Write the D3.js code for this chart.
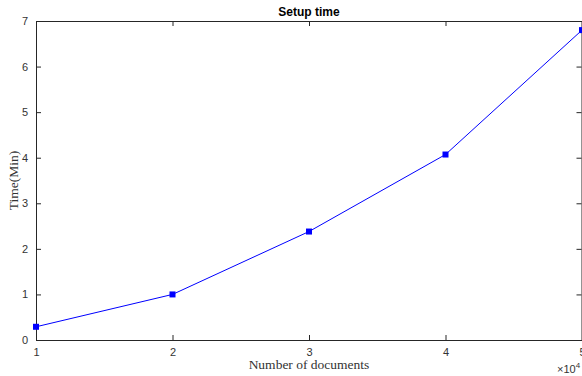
<!DOCTYPE html>
<html>
<head>
<meta charset="utf-8">
<script src="https://cdn.jsdelivr.net/npm/d3@7"></script>
<style>
  body { margin: 0; background: #fff; }
  svg { display: block; }
</style>
</head>
<body>
<div id="chart"></div>
<script>
// Setup time vs. number of documents (x in units of 10^4)
const docs = [ 1, 2, 3, 4, 5 ];
const minutes = [ 0.29, 1.0, 2.38, 4.07, 6.8 ];
const xTicks = [ 1, 2, 3, 4, 5 ];
const yTicks = [ 0, 1, 2, 3, 4, 5, 6, 7 ];

const width = 582;
const height = 376;
const margin = { top: 21, right: 0, bottom: 36, left: 36 };
const innerW = width - margin.left - margin.right;
const innerH = height - margin.top - margin.bottom;

const svg = d3.select( '#chart' )
	.append( 'svg' )
	.attr( 'width', width )
	.attr( 'height', height );

const g = svg.append( 'g' )
	.attr( 'transform', `translate(${ margin.left },${ margin.top })` );

const x = d3.scaleLinear().domain( [ 1, 5 ] ).range( [ 0, innerW ] );
const y = d3.scaleLinear().domain( [ 0, 7 ] ).range( [ innerH, 0 ] );

const tickFont = ( sel ) => sel.selectAll( 'text' )
	.attr( 'font-family', 'Helvetica, Arial, "Liberation Sans", sans-serif' )
	.attr( 'font-size', 11 )
	.attr( 'fill', '#333' );

// axes, ticks pointing inward like MATLAB
const xAxis = g.append( 'g' )
	.attr( 'transform', `translate(0,${ innerH })` )
	.call( d3.axisBottom( x ).tickValues( xTicks ).tickSize( -5 ).tickPadding( 8 ).tickFormat( d3.format( 'd' ) ) );
tickFont( xAxis );

const yAxis = g.append( 'g' )
	.call( d3.axisLeft( y ).tickValues( yTicks ).tickSize( -5 ).tickPadding( 8 ).tickFormat( d3.format( 'd' ) ) );
tickFont( yAxis );

const topAxis = g.append( 'g' )
	.call( d3.axisTop( x ).tickValues( xTicks ).tickSize( -5 ).tickFormat( '' ) );

const rightAxis = g.append( 'g' )
	.attr( 'transform', `translate(${ innerW - 0.5 },0)` )
	.call( d3.axisRight( y ).tickValues( yTicks ).tickSize( -5 ).tickFormat( '' ) );

[ xAxis, yAxis, topAxis, rightAxis ].forEach( ( a ) => {
	a.selectAll( 'path, line' ).attr( 'stroke', '#262626' );
	a.select( '.domain' ).attr( 'stroke-width', 1 );
} );

// line + square markers
const line = d3.line()
	.x( ( d, i ) => x( docs[ i ] ) )
	.y( ( d ) => y( d ) );

g.append( 'path' )
	.datum( minutes )
	.attr( 'd', line )
	.attr( 'fill', 'none' )
	.attr( 'stroke', '#0000ff' )
	.attr( 'stroke-width', 1 );

g.selectAll( 'rect.marker' )
	.data( minutes )
	.enter()
	.append( 'rect' )
	.attr( 'class', 'marker' )
	.attr( 'x', ( d, i ) => x( docs[ i ] ) - 3 )
	.attr( 'y', ( d ) => y( d ) - 3 )
	.attr( 'width', 6 )
	.attr( 'height', 6 )
	.attr( 'fill', '#0000ff' );

// title and labels
svg.append( 'text' )
	.attr( 'x', margin.left + innerW / 2 )
	.attr( 'y', 16 )
	.attr( 'text-anchor', 'middle' )
	.attr( 'font-family', 'Helvetica, Arial, "Liberation Sans", sans-serif' )
	.attr( 'font-weight', 'bold' )
	.attr( 'font-size', 12 )
	.text( 'Setup time' );

svg.append( 'text' )
	.attr( 'x', margin.left + innerW / 2 )
	.attr( 'y', 369 )
	.attr( 'text-anchor', 'middle' )
	.attr( 'font-family', '"Liberation Serif", "DejaVu Serif", serif' )
	.attr( 'font-size', 13.5 )
	.attr( 'fill', '#333' )
	.text( 'Number of documents' );

svg.append( 'text' )
	.attr( 'transform', `translate(18,${ margin.top + innerH / 2 }) rotate(-90)` )
	.attr( 'text-anchor', 'middle' )
	.attr( 'font-family', '"Liberation Serif", "DejaVu Serif", serif' )
	.attr( 'font-size', 13.5 )
	.attr( 'fill', '#333' )
	.text( 'Time(Min)' );

// exponent marker
const expo = svg.append( 'text' )
	.attr( 'x', 557 )
	.attr( 'y', 373 )
	.attr( 'font-family', 'Helvetica, Arial, "Liberation Sans", sans-serif' )
	.attr( 'font-size', 11 )
	.attr( 'fill', '#333' );
expo.append( 'tspan' ).text( '×10' );
expo.append( 'tspan' ).attr( 'dy', -5 ).attr( 'font-size', 8 ).text( '4' );
</script>
</body>
</html>
